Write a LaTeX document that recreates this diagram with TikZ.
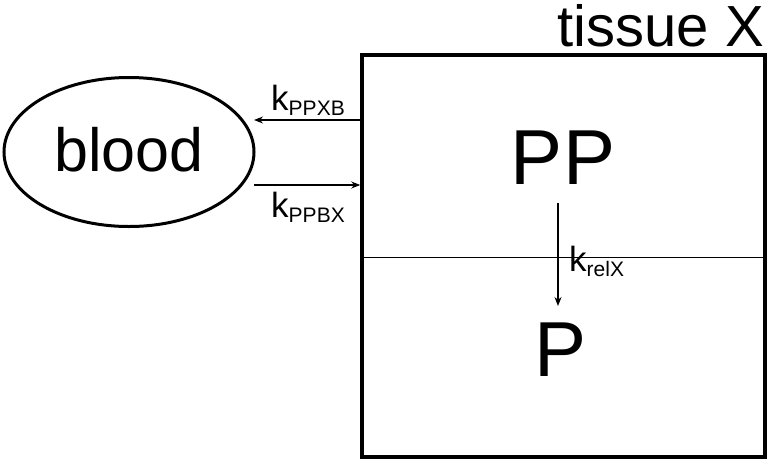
\documentclass[tikz,border=0pt]{standalone}
\usepackage{fontspec}
\setmainfont{Liberation Sans}
\usetikzlibrary{arrows.meta,shapes.geometric}
\newcommand{\rate}[2]{{\fontsize{35}{35}\selectfont #1}{\fontsize{21}{21}\selectfont\raisebox{-5pt}{#2}}}
\begin{document}
\begin{tikzpicture}[x=1pt, y=-1pt, >={Stealth[length=9pt,width=7pt]}]
  \tikzstyle{compartment}=[rectangle, draw, line width=3.5pt, minimum width=403pt, minimum height=402pt, inner sep=0pt]
  \tikzstyle{pool}=[ellipse, draw, line width=3pt, minimum width=250pt, minimum height=149pt, inner sep=0pt]
  \tikzstyle{big}=[font=\fontsize{78}{78}\selectfont, inner sep=0pt]
  \tikzstyle{rate}=[inner sep=0pt, anchor=center]
  \tikzstyle{flow}=[->, line width=1.2pt]

  \useasboundingbox (0,0) rectangle (768,461);

  \node[compartment] (tissue) at (563.5,256) {};
  \node[pool] (blood) at (129,152) {};
  \node[font=\fontsize{61}{61}\selectfont, inner sep=0pt] (bloodtext) at (129,150) {blood};
  \node[font=\fontsize{58}{58}\selectfont, inner sep=0pt, anchor=north east] (title) at (764,4) {tissue X};

  \node[big] (pp) at (563,158) {PP};
  \node[big] (p) at (561,350) {P};

  \coordinate (out) at (254,120);
  \coordinate (in) at (254,185);
  \coordinate (top) at (558,203);
  \coordinate (bottom) at (558,306);

  \draw[line width=1pt] (tissue.west |- 0,257) -- (tissue.east |- 0,257);
  \draw[flow] (tissue.west |- out) -- (out);
  \draw[flow] (in) -- (tissue.west |- in);
  \draw[flow] (top) -- (bottom);

  \node[rate] (kout) at (308,100) {\rate{k}{PPXB}};
  \node[rate] (kin) at (308,207) {\rate{k}{PPBX}};
  \node[rate, anchor=west] (krel) at (569,261) {\rate{k}{relX}};
\end{tikzpicture}
\end{document}
